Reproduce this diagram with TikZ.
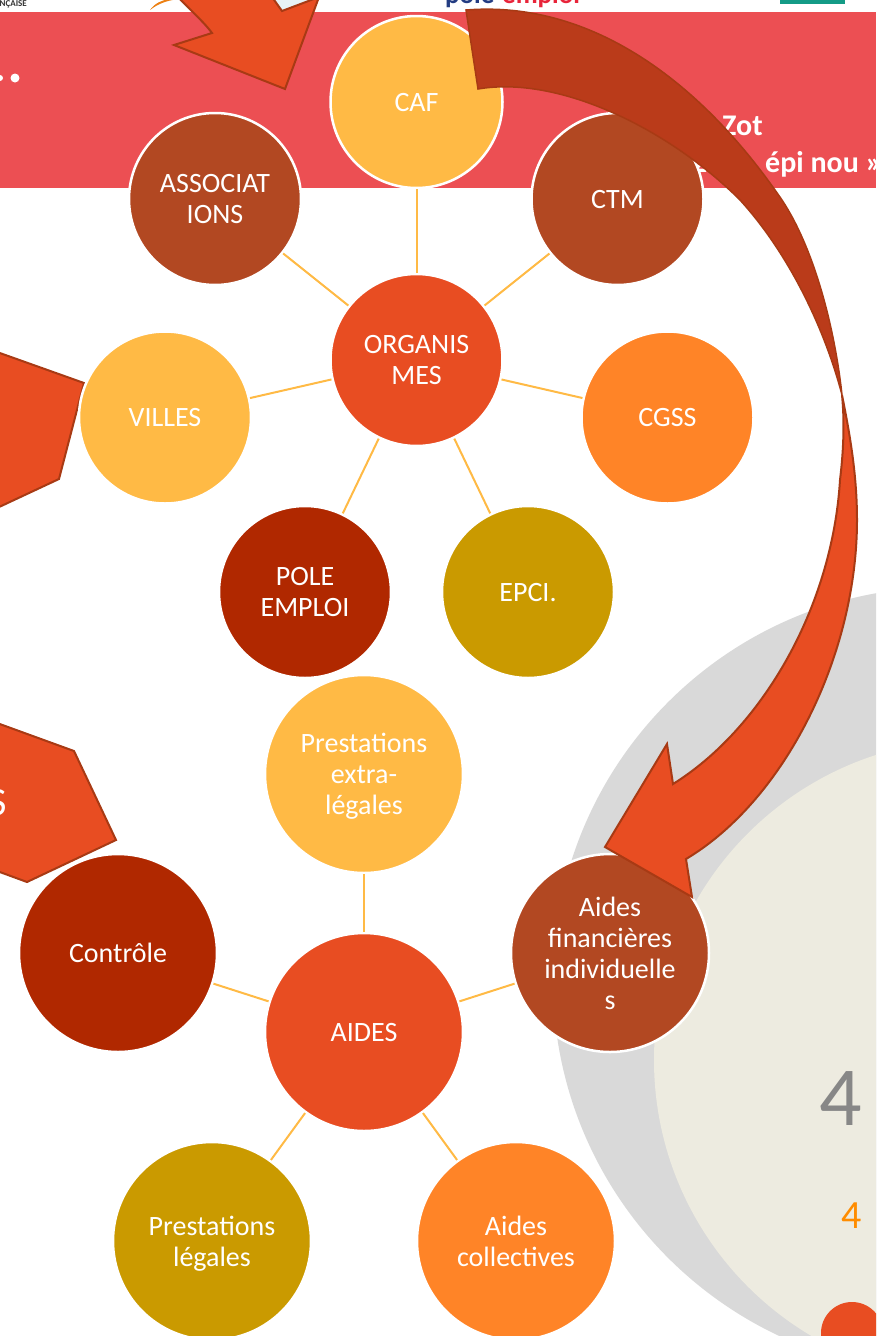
\documentclass[tikz,border=0pt]{standalone}
\usepackage{fontspec}
\setmainfont{Carlito}
\definecolor{bandred}{HTML}{EC4F53}
\definecolor{yel}{HTML}{FFBA45}
\definecolor{bro}{HTML}{B24822}
\definecolor{ora}{HTML}{E84D22}
\definecolor{lor}{HTML}{FF8427}
\definecolor{dre}{HTML}{B02800}
\definecolor{gol}{HTML}{CA9A00}
\definecolor{edg}{HTML}{A83A14}
\definecolor{bac}{HTML}{BA3B1A}
\definecolor{gre}{HTML}{D9D9D9}
\definecolor{bei}{HTML}{EDEBE0}
\definecolor{tea}{HTML}{149B86}
\definecolor{pob}{HTML}{233C82}
\definecolor{por}{HTML}{E8243A}
\tikzset{%
    bub/.style={circle, draw=white, line width=2.5pt, text=white, align=center, inner sep=0pt, text depth=0pt, font=\fontsize{28}{31}\selectfont},
    sma/.style={bub, minimum size=172pt},
    big/.style={bub, minimum size=198pt},
    spo/.style={draw=yel, line width=2pt},
    arr/.style={draw=edg, line width=2pt, fill=ora, line join=miter},
    hea/.style={text=white, inner sep=0pt, anchor=base west, font=\fontsize{30}{30}\selectfont\bfseries},
}

\begin{document}
\begin{tikzpicture}[x=1pt, y=-1pt]
    \useasboundingbox (0,0) rectangle (876,1336);
    \clip (0,0) rectangle (876,1336);
    \fill [bandred] (0,12) rectangle (876,188);
    \fill [tea] (780,0) rectangle (845,4);
    \fill [orange!70!brown] (150,10) .. controls (155,3) and (162,0) .. (170,-1) -- (178,-1) .. controls (165,1) and (158,4) .. (150,10);
    \fill [black!30!cyan!10!white] (272,-1) -- (282,11) -- (316,-1) -- cycle;
    \node (fra) [anchor=base east, inner sep=0pt, font=\fontsize{9}{9}\selectfont\bfseries, text=black!80] at (27,6) {FRANÇAISE};
    \node (poe) [anchor=base west, inner sep=0pt, font=\fontsize{27}{27}\selectfont\bfseries, text=pob] at (445,3) {pôle};
    \node (emp) [anchor=base west, inner sep=0pt, font=\fontsize{27}{27}\selectfont\bfseries, text=por] at (502,3) {emploi};
    \fill [white] (15,78) circle [radius=4.5] (0,78) circle [radius=3];
    \node (zot) [hea] at (722,135) {Zot};
    \node (epi) [hea] at (692,172) {20\hspace{35.8pt} épi nou »};
    \fill [gre] (946,980) circle [radius=393];
    \fill [bei] (974.5,1060) circle [radius=320.5];
    \fill [ora] (852,1333) circle [radius=31];
    \node (num) [anchor=base, inner sep=0pt, text=black!47, font=\fontsize{84}{84}\selectfont] at (841,1125) {4};
    \node (nus) [anchor=base, inner sep=0pt, text=orange!90!yellow, font=\fontsize{40}{40}\selectfont] at (852,1228) {4};
    \draw [arr] (-3,352) -- (84,383) -- (59,479) -- (-3,508) -- cycle;
    \draw [arr] (-3,723) -- (74,751) -- (116,840) -- (27,882) -- (-3,871) -- cycle;
    \node (les) [anchor=base east, inner sep=0pt, text=white, font=\fontsize{40}{40}\selectfont] at (7,815) {S};

    \node (org) [sma, fill=ora] at (416.5,360) {ORGANIS\\MES};
    \node (caf) [sma, fill=yel] at (416.5,102) {CAF};
    \node (aso) [sma, fill=bro] at (215,199) {ASSOCIAT\\IONS};
    \node (ctm) [sma, fill=bro] at (617.5,199) {CTM};
    \node (vil) [sma, fill=yel] at (165,417.5) {VILLES};
    \node (cgs) [sma, fill=lor] at (667.5,417.5) {CGSS};
    \node (pol) [sma, fill=dre] at (305,592) {POLE\\EMPLOI};
    \node (epc) [sma, fill=gol] at (528,592) {EPCI.};
    \foreach \sat in {caf,aso,ctm,vil,cgs,pol,epc}
        \draw [spo] (org) -- (\sat);

    \node (aid) [big, fill=ora] at (364,1032) {AIDES};
    \node (ext) [big, fill=yel] at (364,774) {Prestations\\extra-\\légales};
    \node (ctr) [big, fill=dre] at (118,953) {Contrôle};
    \node (fin) [big, fill=bro] at (610,953) {Aides\\financières\\individuelle\\s};
    \node (leg) [big, fill=gol] at (212,1241) {Prestations\\légales};
    \node (col) [big, fill=lor] at (516,1241) {Aides\\collectives};
    \foreach \sat in {ext,ctr,fin,leg,col}
        \draw [spo] (aid) -- (\sat);

    \draw [arr] (178,-3) .. controls (190,10) and (204,22) .. (212,33) -- (174,45) -- (285,89) -- (319,-3) -- (282,11) -- (272,-3) -- cycle;
    \draw [arr, fill=bac, line width=1.5pt] (466,10) .. controls (590,0) and (700,80) .. (782,200) .. controls (815,250) and (835,330) .. (842,395) .. controls (825,330) and (790,255) .. (740,200) .. controls (670,130) and (560,75) .. (478,89) -- cycle;
    \draw [arr] (842,395) .. controls (845,425) and (843,455) .. (840,480) .. controls (832,610) and (760,730) .. (673,784) -- (667,744) -- (605,847) -- (692,897) -- (686,859) .. controls (785,800) and (857,655) .. (857,520) .. controls (857,475) and (850,435) .. (842,395) -- cycle;
\end{tikzpicture}
\end{document}
